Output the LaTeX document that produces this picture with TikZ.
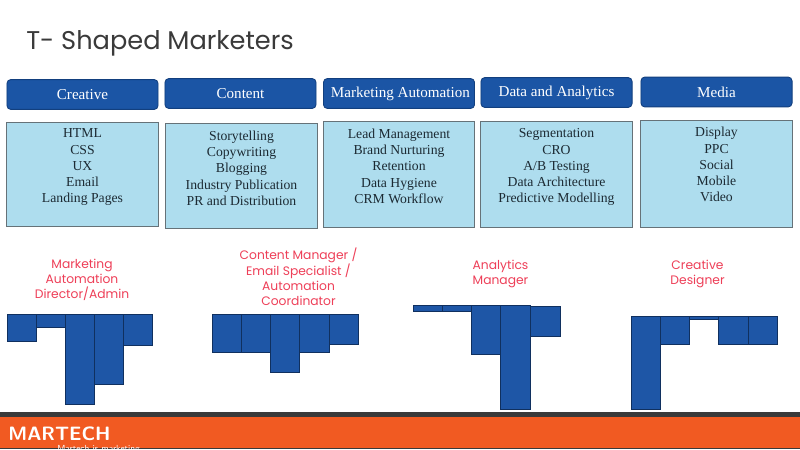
\documentclass[tikz,border=0pt]{standalone}
\usepackage{fontspec}
\setmainfont{Liberation Serif}
\newfontfamily\labelfont{Poppins}
\definecolor{headblue}{HTML}{1B55A5}
\definecolor{headedge}{HTML}{123F7E}
\definecolor{boxblue}{HTML}{AEDDEE}
\definecolor{boxedge}{HTML}{667278}
\definecolor{boxtext}{HTML}{1C2A33}
\definecolor{barblue}{HTML}{1E56A6}
\definecolor{baredge}{HTML}{10305F}
\definecolor{rolered}{HTML}{EE3F58}
\definecolor{footorange}{HTML}{F15A22}
\definecolor{footdark}{HTML}{3A3A3A}
\tikzset{
  headbox/.style={draw=headedge,line width=0.5pt,fill=headblue,rounded corners=2.2pt,minimum width=86pt,minimum height=17pt,inner sep=0pt,text=white,font=\fontsize{8.6}{10}\selectfont},
  bodybox/.style={draw=boxedge,line width=0.6pt,fill=boxblue,minimum width=86pt,inner sep=0pt},
  bodytext/.style={anchor=north,align=center,inner sep=0pt,text=boxtext,font=\fontsize{7.8}{9.25}\selectfont},
  rolelabel/.style={anchor=north,align=center,inner sep=0pt,text=rolered,font=\labelfont\fontsize{7}{8.6}\selectfont},
  bar/.style={draw=baredge,line width=0.4pt,fill=barblue}
}
\begin{document}
\begin{tikzpicture}[x=0.02cm,y=-0.02cm]
  \useasboundingbox (0,0) rectangle (800,449);
  \fill[white] (0,0) rectangle (800,449);
  \node[anchor=west,inner sep=0pt,text=footdark,font=\labelfont\fontsize{14.6}{18}\selectfont] (title) at (26,43){T- Shaped Marketers};
  % kopfzeile
  \node[headbox] (creative) at (82.5,94.5){Creative};
  \node[headbox] (content) at (240.5,93.5){Content};
  \node[headbox] (automation) at (399,93.5){\hspace*{1.6pt}Marketing Automation};
  \node[headbox] (analytics) at (556.5,92.5){Data and Analytics};
  \node[headbox] (media) at (716.5,92){Media};
  % listen
  \node[bodybox,minimum height=59.5pt] (creativebox) at (82.5,174.5){};
  \node[bodybox,minimum height=60pt] (contentbox) at (241.5,176){};
  \node[bodybox,minimum height=60.5pt] (automationbox) at (399,174.5){};
  \node[bodybox,minimum height=60.5pt] (analyticsbox) at (556.5,174.5){};
  \node[bodybox,minimum height=61pt] (mediabox) at (716.5,174){};
  \node[bodytext] (creativelist) at (82.5,128.5){HTML\\CSS\\UX\\Email\\Landing Pages};
  \node[bodytext] (contentlist) at (241.5,130.5){Storytelling\\Copywriting\\Blogging\\Industry Publication\\PR and Distribution};
  \node[bodytext] (automationlist) at (399,128.5){Lead Management\\Brand Nurturing\\Retention\\Data Hygiene\\CRM Workflow};
  \node[bodytext] (analyticslist) at (556.5,128.5){Segmentation\\CRO\\A/B Testing\\Data Architecture\\Predictive Modelling};
  \node[bodytext] (medialist) at (716.5,127){Display\\PPC\\Social\\Mobile\\Video};
  % rollen
  \node[rolelabel] (directorlabel) at (82,259){Marketing\\Automation\\Director/Admin};
  \node[rolelabel] (managerlabel) at (298.5,248){Content Manager /\\Email Specialist /\\Automation\\Coordinator};
  \node[rolelabel] (analystlabel) at (500.5,260){Analytics\\Manager};
  \node[rolelabel] (designerlabel) at (697.5,260){Creative\\Designer};
  % balken 1
  \draw[bar] (7,314) rectangle (36,341);
  \draw[bar] (36,314) rectangle (65,327);
  \draw[bar] (65,314) rectangle (94,404);
  \draw[bar] (94,314) rectangle (123,384);
  \draw[bar] (123,314) rectangle (152,345);
  % balken 2
  \draw[bar] (212,314) rectangle (241.5,352.5);
  \draw[bar] (241.5,314) rectangle (270.5,352.5);
  \draw[bar] (270.5,314) rectangle (299.5,372.5);
  \draw[bar] (299.5,314) rectangle (329,352.5);
  \draw[bar] (329,314) rectangle (358,344.5);
  % balken 3
  \draw[bar] (413,305.5) rectangle (442.5,311);
  \draw[bar] (442.5,305.5) rectangle (471.5,311);
  \draw[bar] (471.5,305.5) rectangle (500.5,354);
  \draw[bar] (500.5,305.5) rectangle (530,409.5);
  \draw[bar] (530,306) rectangle (560,336);
  % balken 4
  \draw[bar] (631.5,316) rectangle (660.5,409);
  \draw[bar] (660.5,316) rectangle (689.5,344.5);
  \draw[bar] (689.5,316) rectangle (718,319);
  \draw[bar] (718,316) rectangle (748,344.5);
  \draw[bar] (748,316) rectangle (777.5,344.5);
  % fusszeile
  \fill[footdark] (0,412) rectangle (800,417);
  \fill[footorange] (0,417) rectangle (800,448);
  \fill[footdark] (0,448) rectangle (800,449);
  \node[anchor=west,inner sep=0pt,text=white,font=\sffamily\bfseries\fontsize{11}{13}\selectfont] (brand) at (8,433.5){MARTECH};
  \begin{scope}
    \clip (0,417) rectangle (800,448);
    \node[anchor=west,inner sep=0pt,text=white,font=\sffamily\fontsize{5}{6}\selectfont] (tagline) at (57,449){Martech is marketing};
  \end{scope}
\end{tikzpicture}
\end{document}
